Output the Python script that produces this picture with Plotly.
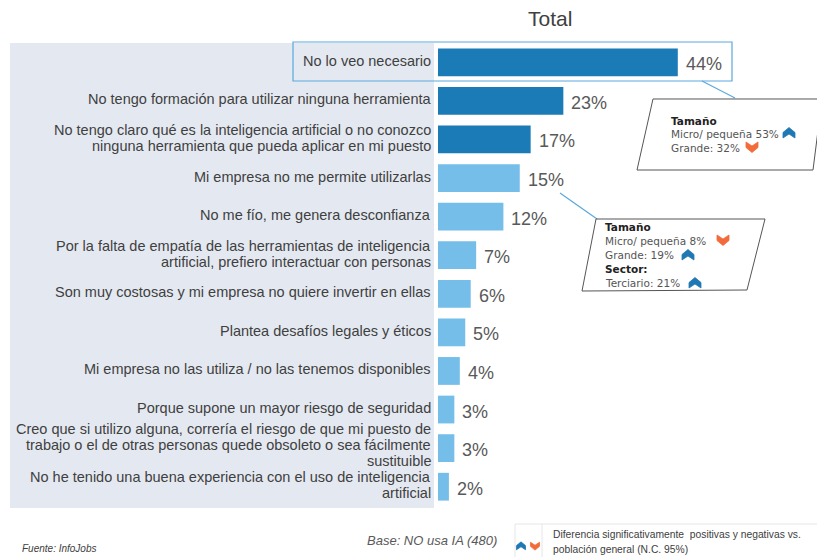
import plotly.graph_objects as go

categories = [
    "No lo veo necesario",
    "No tengo formación para utilizar ninguna herramienta",
    "No tengo claro qué es la inteligencia artificial o no conozco<br>ninguna herramienta que pueda aplicar en mi puesto",
    "Mi empresa no me permite utilizarlas",
    "No me fío, me genera desconfianza",
    "Por la falta de empatía de las herramientas de inteligencia<br>artificial, prefiero interactuar con personas",
    "Son muy costosas y mi empresa no quiere invertir en ellas",
    "Plantea desafíos legales y éticos",
    "Mi empresa no las utiliza / no las tenemos disponibles",
    "Porque supone un mayor riesgo de seguridad",
    "Creo que si utilizo alguna, correría el riesgo de que mi puesto de<br>trabajo o el de otras personas quede obsoleto o sea fácilmente<br>sustituible",
    "No he tenido una buena experiencia con el uso de inteligencia<br>artificial",
]
values = [44, 23, 17, 15, 12, 7, 6, 5, 4, 3, 3, 2]
value_labels = ["44%", "23%", "17%", "15%", "12%", "7%", "6%", "5%", "4%", "3%", "3%", "2%"]
highlight = [True, True, True] + [False] * 9

DARK = "#1a7bb6"
LIGHT = "#74bee9"
BLUE_CH = "#1f78b4"
ORANGE_CH = "#f26b3a"
LABEL_FONT = "Liberation Sans, Arial"

W, H = 817, 557
X0, X1 = 438, 817
Y0, Y1 = 43, 506


def px(x):
    return (x - X0) / (X1 - X0)


def py(y):
    return (Y1 - y) / (Y1 - Y0)


def path(points):
    return "M " + " L ".join(f"{px(x):.5f},{py(y):.5f}" for x, y in points) + " Z"


fig = go.Figure()
fig.add_trace(go.Bar(
    x=values, y=categories, orientation="h",
    marker=dict(color=[DARK if h else LIGHT for h in highlight], line=dict(width=0)),
    width=0.72, hoverinfo="x",
))

shapes = []
annotations = []

# grey panel behind labels
shapes.append(dict(type="rect", xref="paper", yref="paper", x0=px(10), x1=px(434),
                   y0=py(508), y1=py(43), fillcolor="#e4e9f1", line=dict(width=0), layer="below"))

# category labels (one annotation per line for tight line spacing)
LINE_H = 16.3
for c in categories:
    lines = c.split("<br>")
    n = len(lines)
    base = 1.5 + (1.5 if n == 3 else 0)
    for j, ln in enumerate(lines):
        annotations.append(dict(x=0, y=c, xref="x", yref="y", text=ln, showarrow=False,
                                xanchor="right", yanchor="middle", xshift=-6, borderpad=0,
                                yshift=base - (j - (n - 1) / 2) * LINE_H,
                                font=dict(size=14.5, color="#404040", family=LABEL_FONT)))

# value labels
for c, v, t in zip(categories, values, value_labels):
    annotations.append(dict(x=v, y=c, xref="x", yref="y", text=t, showarrow=False,
                            xanchor="left", xshift=6, yshift=-2,
                            font=dict(size=18, color="#595959", family=LABEL_FONT)))

# highlight rectangle for first row
shapes.append(dict(type="rect", xref="paper", yref="paper", x0=px(293), x1=px(732),
                   y0=py(81), y1=py(42), line=dict(color="#5aa9dd", width=1.2)))
# connector lines
shapes.append(dict(type="line", xref="paper", yref="paper", x0=px(702), y0=py(81),
                   x1=px(735), y1=py(98), line=dict(color="#5aa9dd", width=1.2)))
shapes.append(dict(type="line", xref="paper", yref="paper", x0=px(560), y0=py(193),
                   x1=px(597), y1=py(219), line=dict(color="#5aa9dd", width=1.2)))

# callout parallelograms
shapes.append(dict(type="path", xref="paper", yref="paper",
                   path=path([(653, 99), (822, 99), (813, 170), (637, 170)]),
                   line=dict(color="#555555", width=1), fillcolor="white"))
shapes.append(dict(type="path", xref="paper", yref="paper",
                   path=path([(596, 219), (765, 219), (747, 290), (582, 291)]),
                   line=dict(color="#555555", width=1), fillcolor="white"))


def chevron(cx, cy, up, color, s=1.0):
    if up:
        pts = [(-6, -0.5), (0, -5.5), (6, -0.5), (6, 5), (0, 1), (-6, 5)]
    else:
        pts = [(-6, 0.5), (0, 5.5), (6, 0.5), (6, -5), (0, -1), (-6, -5)]
    pts = [(cx + x * s, cy + y * s) for x, y in pts]
    shapes.append(dict(type="path", xref="paper", yref="paper", path=path(pts),
                       fillcolor=color, line=dict(color=color, width=0.8)))


def txt(x, y, text, size=10.5, color="#555555", family="DejaVu Sans", bold=False, anchor="left"):
    if bold:
        text = f"<b>{text}</b>"
    annotations.append(dict(x=px(x), y=py(y), xref="paper", yref="paper", text=text,
                            showarrow=False, xanchor=anchor, yanchor="middle",
                            font=dict(size=size, color=color, family=family)))


# callout 1
txt(669, 121, "Tamaño", color="#222222", bold=True)
txt(669, 134, "Micro/ pequeña 53%")
txt(669, 148, "Grande: 32%")
chevron(789, 133, True, BLUE_CH)
chevron(752, 147, False, ORANGE_CH)

# callout 2
txt(603, 227, "Tamaño", color="#222222", bold=True)
txt(603, 241, "Micro/ pequeña 8%")
txt(603, 255, "Grande: 19%")
txt(603, 269, "Sector:", color="#222222", bold=True)
txt(603, 283, "Terciario: 21%")
chevron(723, 240, False, ORANGE_CH)
chevron(688, 255, True, BLUE_CH)
chevron(695, 283, True, BLUE_CH)

# title
txt(550, 18, "Total", size=21, color="#404040", family=LABEL_FONT, anchor="center")

# footer
txt(20, 548, "<i>Fuente: InfoJobs</i>", size=10, color="#404040", family=LABEL_FONT)
txt(365, 540, "<i>Base: NO usa IA (480)</i>", size=13, color="#595959",
    family="Liberation Sans Narrow, Liberation Sans")
txt(551, 534, "Diferencia significativamente  positivas y negativas vs.", size=10.3, color="#404040",
    family="Liberation Sans Narrow, Liberation Sans")
txt(551, 549, "población general (N.C. 95%)", size=10.3, color="#404040",
    family="Liberation Sans Narrow, Liberation Sans")
shapes.append(dict(type="line", xref="paper", yref="paper", x0=px(515), x1=px(817),
                   y0=py(524), y1=py(524), line=dict(color="#e6e6e6", width=1)))
shapes.append(dict(type="line", xref="paper", yref="paper", x0=px(515), x1=px(515),
                   y0=py(524), y1=py(557), line=dict(color="#e6e6e6", width=1)))
shapes.append(dict(type="line", xref="paper", yref="paper", x0=px(542), x1=px(542),
                   y0=py(524), y1=py(557), line=dict(color="#e6e6e6", width=1)))
chevron(521, 546, True, BLUE_CH, 0.75)
chevron(535, 546, False, ORANGE_CH, 0.75)

fig.update_layout(
    width=W, height=H,
    margin=dict(l=X0, r=W - X1, t=Y0, b=H - Y1, pad=0),
    paper_bgcolor="white", plot_bgcolor="rgba(0,0,0,0)",
    showlegend=False,
    xaxis=dict(range=[0, (X1 - X0) / 5.45], visible=False, fixedrange=True),
    yaxis=dict(categoryorder="array", categoryarray=categories,
               range=[len(categories) - 0.5, -0.5], showgrid=False, zeroline=False,
               showline=False, ticks="", showticklabels=False, fixedrange=True),
    shapes=shapes, annotations=annotations,
)

fig.write_html("out.html", config={"displayModeBar": False},
               post_script="document.body.style.margin='0px';")
